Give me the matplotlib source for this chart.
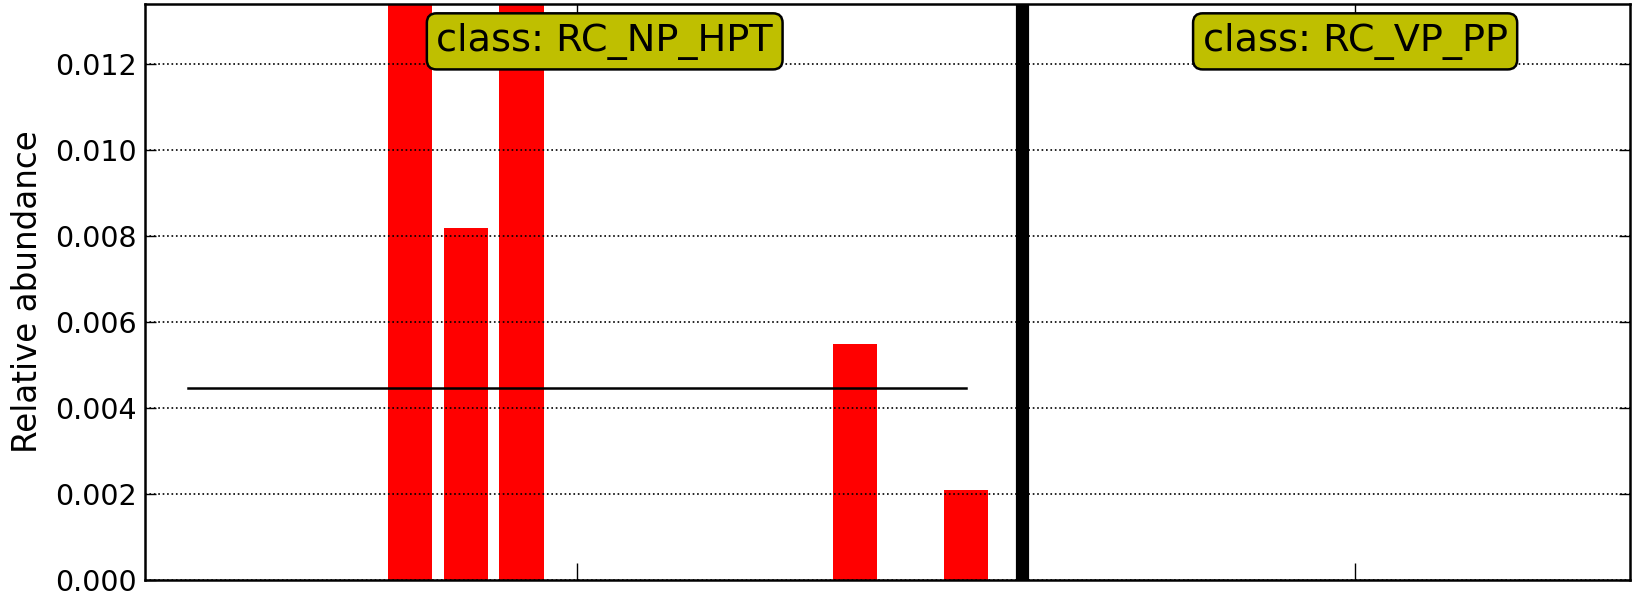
import numpy as np
import matplotlib
matplotlib.use('Agg')
import matplotlib.pyplot as plt

# samples of class RC_NP_HPT (15) and RC_VP_PP (9)
class_names = ['RC_NP_HPT', 'RC_VP_PP']
np_hpt_vals = [0, 0, 0, 0, 0.0235, 0.0082, 0.0276, 0, 0, 0, 0, 0, 0.0055, 0, 0.0021]
vp_pp_vals = [0, 0, 0, 0, 0, 0, 0, 0, 0]

fig = plt.figure(figsize=(16.33, 5.93), dpi=100)
ax = fig.add_axes([0.0888, 0.0219, 0.9092, 0.9714])

x1 = np.arange(len(np_hpt_vals))
sep = len(np_hpt_vals)
x2 = sep + 1.3 + np.arange(len(vp_pp_vals))

ax.bar(x1, np_hpt_vals, width=0.8, color='red', linewidth=0, zorder=2)
ax.bar(x2, vp_pp_vals, width=0.8, color='red', edgecolor='black', linewidth=1, zorder=2)

# class mean line
m1 = np.mean(np_hpt_vals)
ax.plot([x1[0], x1[-1]], [m1, m1], color='black', lw=1.8, zorder=3)

# separator between classes
ax.axvline(sep, color='black', lw=9.5, zorder=4)

ax.set_xlim(-0.77, 25.94)
ax.set_ylim(0, 0.0134)
ax.set_yticks(np.arange(0, 0.0121, 0.002))
ax.set_yticklabels(['%.3f' % v for v in np.arange(0, 0.0121, 0.002)], fontsize=20.5)
ax.set_xticks([7, 21])
ax.set_xticklabels([])
ax.tick_params(axis='y', direction='in', length=8, width=1, right=True, pad=6)
ax.tick_params(axis='x', direction='in', length=12, width=1, top=True)
ax.yaxis.grid(True, linestyle=':', color='black', lw=1.2, zorder=5)
ax.set_axisbelow(False)
for s in ax.spines.values():
    s.set_linewidth(1.8)
ax.set_ylabel('Relative abundance', fontsize=23.5, labelpad=8)

box = dict(boxstyle='round,pad=0.25', facecolor=(0.75, 0.75, 0), edgecolor='black', lw=1.8)
ax.text(7.5, 0.01253, 'class: ' + class_names[0], fontsize=27.5, ha='center', va='center',
        bbox=box, zorder=6)
ax.text(21, 0.01253, 'class: ' + class_names[1], fontsize=27.5, ha='center', va='center',
        bbox=box, zorder=6)

plt.savefig('out.png', dpi=100)
